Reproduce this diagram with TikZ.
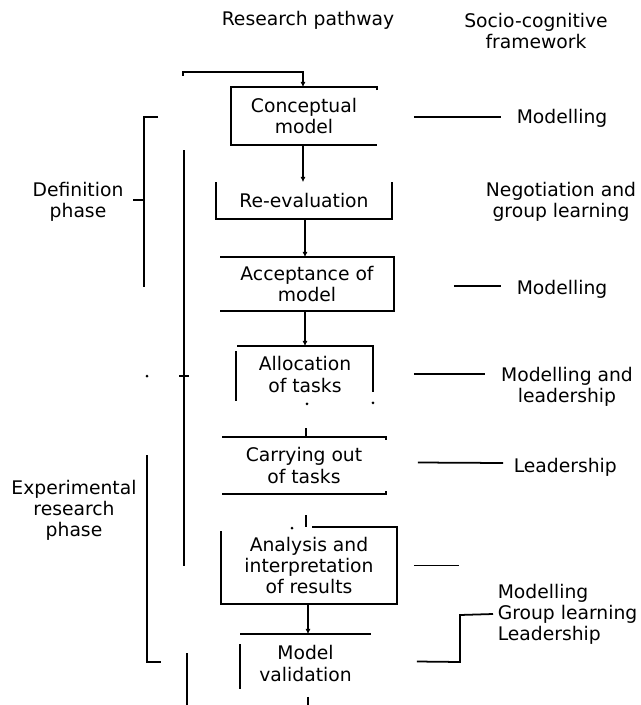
\documentclass[tikz,border=0pt]{standalone}
\usepackage{fontspec}
\setmainfont{DejaVu Sans}
\usepackage{tikz}
\usetikzlibrary{arrows.meta,calc}

\begin{document}
\begin{tikzpicture}[
    x=0.03cm, y=-0.03cm,
    line width=1.5pt,
    >={Latex[length=4.5pt,width=4.5pt]},
    lbl/.style={font=\fontsize{16}{18}\selectfont,align=center},
    stage/.style={lbl,inner sep=0pt},
    tie/.style={line width=1.5pt},
]
\useasboundingbox (0,0) rectangle (640,705);

% ---- column heads ----
\node[lbl] (hpath) at (308,20) {Research pathway};
\node[lbl] (hframe) at (536,31) {Socio-cognitive\\framework};

% ---- research pathway stages ----
\node[stage,minimum width=4.32cm,minimum height=1.68cm] (concept) at (304,116) {Conceptual\\model};
\node[stage,minimum width=5.22cm,minimum height=1.05cm] (reeval) at (304,200.5) {Re-evaluation};
\node[stage,minimum width=5.16cm,minimum height=1.56cm] (accept) at (307,284) {Acceptance of\\model};
\node[stage,minimum width=4.02cm,minimum height=1.65cm] (alloc) at (305,374.5) {Allocation\\of tasks};
\node[stage,minimum width=4.86cm,minimum height=1.65cm] (carry) at (304,465.5) {Carrying out\\of tasks};
\node[stage,minimum width=5.22cm,minimum height=2.25cm] (analysis) at (309,565.5) {Analysis and\\interpretation\\of results};
\node[stage,minimum width=3.87cm,minimum height=1.71cm] (valid) at (305.5,663.5) {Model\\validation};

% open box outlines
\draw (concept.north east) ++(0,3) -- (concept.north east) -- (concept.north west)
      -- (concept.south west) -- (concept.south east);
\draw (reeval.north west) -- (reeval.south west) -- (reeval.south east) -- (reeval.north east);
\draw (accept.north west) -- (accept.north east) -- (accept.south east) -- (accept.south west);
\draw (alloc.north west) -- (alloc.north east) -- ++(0,46);
\draw (alloc.north west) ++(-1,5) -- ++(0,50);
\fill (alloc.south) ++(2,1) circle (1.5);
\fill (alloc.south east) circle (1.5);
\draw (carry.north west) -- (carry.north east) -- ++(0,3);
\draw (carry.south west) -- (carry.south east) -- ++(0,-3);
\draw ($(analysis.north west)+(91,0)$) -- (analysis.north east) -- (analysis.south east)
      -- (analysis.south west) -- ++(0,-73);
\draw (valid.north west) -- (valid.north east);
\draw (valid.north west) ++(0,10) -- ++(0,45);

% ---- flow between stages ----
\draw[->] (concept.south -| 303,0) -- (reeval.north -| 303,0);
\draw[->] (reeval.south -| 305,0) -- (accept.north -| 305,0);
\draw[->] (accept.south -| 305,0) -- (alloc.north -| 305,0);
\coordinate (carryin) at (306,428);
\draw (carryin) -- (carry.north -| 306,0);
\coordinate (analysisin) at (306,515);
\draw (analysisin) -- (analysis.north -| 306,0);
\fill (292,528) circle (1.5);
\draw[->] (analysis.south -| 308,0) -- (valid.north -| 308,0);

% ---- feedback lines ----
\coordinate (fbstart) at (183,76);
\draw[->] (fbstart) |- (303,72) -- (concept.north -| 303,0);
\coordinate (fbtop) at (184,150);
\coordinate (fbbot) at (184,566);
\draw (fbtop) -- (fbbot);
\draw (179,376) -- (189,376);
\fill (147,376) circle (1.5);
\coordinate (loopA) at (187,653);
\draw (loopA) -- (187,705);
\draw (valid.south -| 308,0) ++(0,4) -- (308,705);

% ---- phase brackets ----
\node[lbl] (pdef) at (78,202) {Definition\\phase};
\draw (158,117) -- (144,117) -- (144,287);
\draw (133,200) -- (144,200);
\node[lbl] (pexp) at (74,510) {Experimental\\research\\phase};
\draw (147,455) -- (147,662) -- (161,662);

% ---- socio-cognitive framework ----
\node[lbl,anchor=west] (fw1) at (512,118) {Modelling};
\draw[tie] ($(concept.east)+(37,1)$) -- ($(fw1.west)+(-11,-1)$);
\node[lbl] (fw2) at (561,202) {Negotiation and\\group learning};
\node[lbl,anchor=west] (fw3) at (512,289) {Modelling};
\draw[tie] ($(accept.east)+(60,2)$) -- ($(fw3.west)+(-11,-3)$);
\node[lbl] (fw4) at (567,387) {Modelling and\\leadership};
\draw[tie] ($(alloc.east)+(41,-0.5)$) -- (485,374);
\node[lbl,anchor=west] (fw5) at (509,467) {Leadership};
\draw[tie] ($(carry.east)+(32,-3)$) -- ($(fw5.west)+(-6,-4)$);
\draw[tie] ($(analysis.east)+(17,0)$) -- ++(45,0);
\node[lbl,anchor=west,align=left] (fw6) at (493,614) {Modelling\\Group learning\\Leadership};
\draw[tie] ($(valid.east)+(46,-2)$) -- (460,662) -- (460,615) -- (fw6.west);

\end{tikzpicture}
\end{document}
